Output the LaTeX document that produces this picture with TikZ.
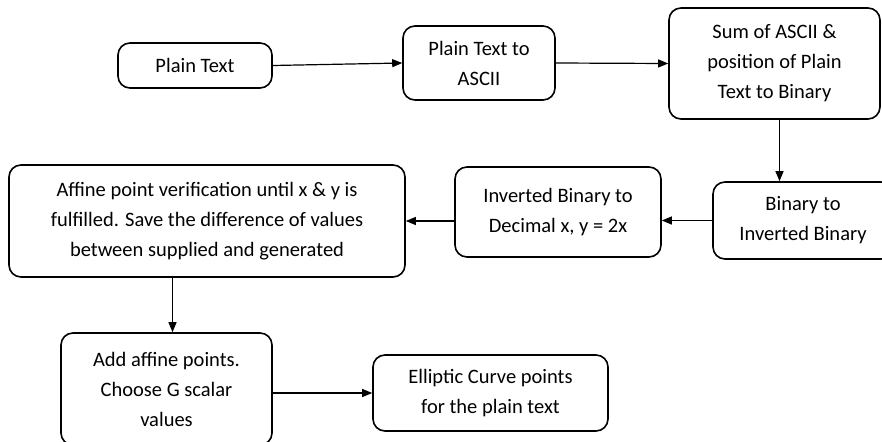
\documentclass[tikz,border=0pt]{standalone}
\usepackage{fontspec}
\setmainfont{Carlito}
\usetikzlibrary{arrows.meta,calc}
\begin{document}
\begin{tikzpicture}[x=1pt,y=-1pt,
  box/.style={draw=black,line width=1.6pt,rounded corners=12pt,align=center,
    inner sep=0pt,font=\fontsize{20.5}{30}\selectfont,text=black},
  arr/.style={line width=1.2pt,-{Triangle[length=10pt,width=8pt]}}]
\clip (0,0) rectangle (882,441);
\fill[white] (0,0) rectangle (882,441);
\node[box,minimum width=154pt,minimum height=45pt] (pt) at (195,65.5) {Plain Text};
\node[box,minimum width=152pt,minimum height=74pt] (ascii) at (479,63) {Plain Text to\\ASCII};
\node[box,minimum width=211pt,minimum height=111pt] (sum) at (774.5,63.5) {Sum of ASCII \&\\position of Plain\\Text to Binary};
\node[box,minimum width=180pt,minimum height=77pt] (bin) at (803,220.5) {Binary to\\Inverted Binary};
\node[box,minimum width=206pt,minimum height=90pt] (inv) at (558,212) {Inverted Binary to\\Decimal x, y = 2x};
\node[box,minimum width=396pt,minimum height=112pt] (aff) at (207,221) {Affine point verification until x \& y is\\fulfilled. Save the difference of values\\between supplied and generated};
\node[box,minimum width=211pt,minimum height=112pt] (add) at (166.5,389) {Add affine points.\\Choose G scalar\\values};
\node[box,minimum width=235pt,minimum height=76pt] (ell) at (490.5,393) {Elliptic Curve points\\for the plain text};
\draw[arr] (pt.east) -- (ascii.west);
\draw[arr] (ascii.east) -- (sum.west);
\draw[arr] ($(sum.south)+(5,0)$) -- ($(sum.south |- bin.north)+(5,0)$);
\draw[arr] (bin.west) -- (inv.east |- bin.west);
\draw[arr] (inv.west |- aff.east) -- (aff.east);
\draw[arr] ($(add.north |- aff.south)+(6,0)$) -- ($(add.north)+(6,0)$);
\draw[arr] (ell.west -| add.east) -- (ell.west);
\end{tikzpicture}
\end{document}
